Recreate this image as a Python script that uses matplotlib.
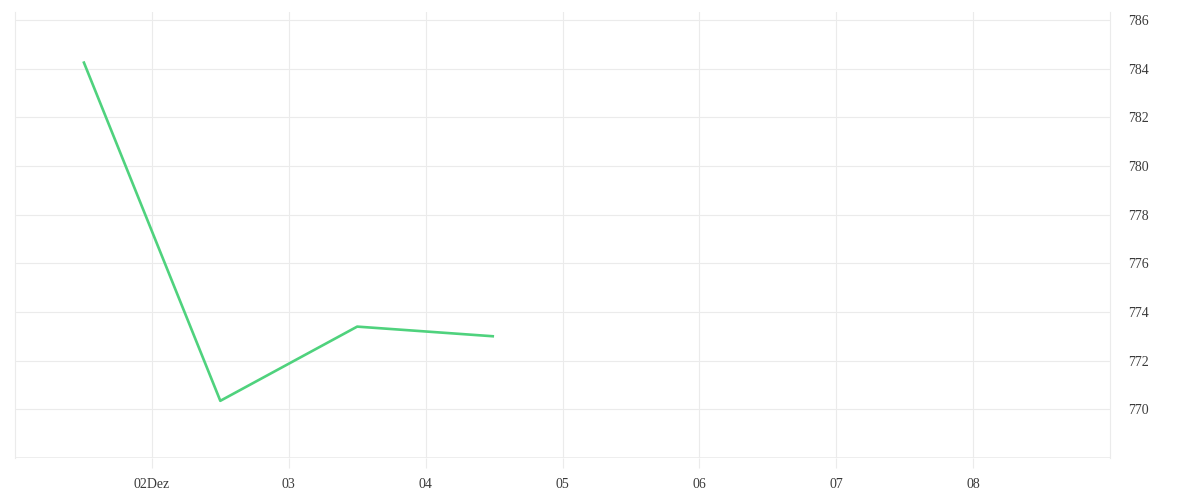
import matplotlib
matplotlib.use("Agg")
import matplotlib.pyplot as plt
import matplotlib.dates as mdates
import numpy as np
from datetime import datetime

# Data
times = ["2023-12-01 12:00", "2023-12-02 12:00", "2023-12-03 12:00", "2023-12-04 12:00"]
values = [784.3, 770.35, 773.4, 773.0]
tick_dates = ["2023-12-02", "2023-12-03", "2023-12-04", "2023-12-05",
              "2023-12-06", "2023-12-07", "2023-12-08"]
tick_labels = ["02Dez", "03", "04", "05", "06", "07", "08"]
y_ticks = [770, 772, 774, 776, 778, 780, 782, 784, 786]

grid_c = "#ebebeb"
text_c = "#3a3a3a"
line_c = "#4fd27d"

fig = plt.figure(figsize=(12, 5), dpi=100)
ax = fig.add_axes([15/1200, 42/500, (1110-15)/1200, (458-12)/500])

x = mdates.date2num([datetime.strptime(t, "%Y-%m-%d %H:%M") for t in times])
ax.plot(x, values, color=line_c, lw=1.9, solid_capstyle="butt", zorder=3)

xt = mdates.date2num([datetime.strptime(t, "%Y-%m-%d") for t in tick_dates])
ax.set_xticks(xt)
ax.set_xticklabels(tick_labels)
ax.set_xlim(mdates.date2num(datetime(2023, 12, 1)), mdates.date2num(datetime(2023, 12, 9)))
ax.set_ylim(768, 786.33)
ax.set_yticks(y_ticks)
ax.yaxis.tick_right()

ax.grid(True, color=grid_c, lw=0.8, zorder=0)
ax.axhline(768, color=grid_c, lw=1.2, zorder=1)

for s in ["top", "bottom"]:
    ax.spines[s].set_visible(False)
for s in ["left", "right"]:
    ax.spines[s].set_color(grid_c)
    ax.spines[s].set_linewidth(0.8)

ax.tick_params(axis="x", length=7.2, width=0.8, color=grid_c, pad=7,
               labelsize=10, labelcolor=text_c)
ax.tick_params(axis="y", length=0, pad=13, labelsize=10, labelcolor=text_c)
for lab in ax.get_xticklabels() + ax.get_yticklabels():
    lab.set_family("Liberation Serif")

fig.savefig("out.png", dpi=100, facecolor="white")
